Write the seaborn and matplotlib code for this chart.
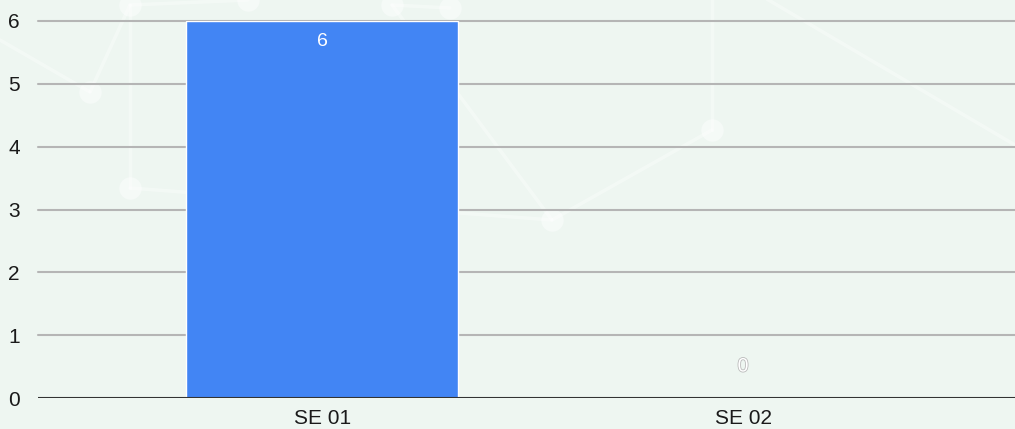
import matplotlib
matplotlib.use('Agg')
import matplotlib.pyplot as plt
import seaborn as sns
import pandas as pd
import matplotlib.patheffects as pe

# Data
categories = ['SE 01', 'SE 02']
values = [6, 0]
yticks = [0, 1, 2, 3, 4, 5, 6]

bg = '#eef6f1'
bar_color = '#4285f4'

sns.set_theme(style='white')
plt.rcParams['font.family'] = ['Liberation Sans', 'DejaVu Sans']

df = pd.DataFrame({'session': categories, 'count': values})

fig = plt.figure(figsize=(10.15, 4.29), dpi=100)
fig.patch.set_facecolor(bg)

# faint network decoration in the background
deco = fig.add_axes([0, 0, 1, 1], zorder=-1)
deco.set_xlim(0, 1015)
deco.set_ylim(429, 0)
deco.axis('off')
pts = {'a': (90, 92), 'b': (130, 188), 'c': (130, 5), 'd': (248, 0), 'e': (392, 5),
       'f': (450, 8), 'g': (552, 220), 'h': (712, 130), 'i': (712, -10), 'j': (760, -5)}
edges = [('a', 'c'), ('c', 'd'), ('b', 'c'), ('b', 'g'), ('e', 'g'), ('g', 'h'),
         ('h', 'i'), ('f', 'e')]
for p, q in edges:
    deco.plot([pts[p][0], pts[q][0]], [pts[p][1], pts[q][1]], color='white', lw=2.5, alpha=0.35)
deco.plot([0, 90], [40, 92], color='white', lw=2.5, alpha=0.35)
deco.plot([760, 1015], [-5, 145], color='white', lw=2.5, alpha=0.35)
for k in ['a', 'b', 'c', 'd', 'e', 'f', 'g', 'h']:
    deco.scatter(*pts[k], s=260, color='white', alpha=0.45, lw=0)

ax = fig.add_axes([38 / 1015, 1 - 398 / 429, 1 - 38 / 1015, (398 - 21) / 429])
ax.patch.set_alpha(0)

sns.barplot(data=df, x='session', y='count', color=bar_color, saturation=1,
            width=0.646, ax=ax, zorder=3)

ax.set_xlim(-0.675, 1.646)
ax.set_ylim(0, 6)
ax.set_yticks(yticks)
ax.set_xlabel('')
ax.set_ylabel('')
for y in yticks[1:]:
    ax.axhline(y, color='#b5b5b5', lw=1.5, zorder=1, clip_on=False)
ax.axhline(0, color='#333333', lw=1.5, zorder=4)
sns.despine(ax=ax, left=True, bottom=True, top=True, right=True)
ax.tick_params(axis='y', length=0, pad=13, labelsize=15, labelcolor='#1a1a1a')
ax.tick_params(axis='x', length=0, pad=8, labelsize=15, labelcolor='#1a1a1a')

# value labels
for i, v in enumerate(values):
    if v > 0.5:
        ax.annotate(str(v), (i, v), xytext=(0, -21), textcoords='offset pixels',
                    ha='center', va='center', color='white', fontsize=14, zorder=5)
    else:
        ax.annotate(str(v), (i, v), xytext=(0, 31), textcoords='offset pixels',
                    ha='center', va='center', color='white', fontsize=14, zorder=5,
                    path_effects=[pe.withStroke(linewidth=1.2, foreground='#bbbbbb')])

fig.savefig('out.png', dpi=100, facecolor=bg)
